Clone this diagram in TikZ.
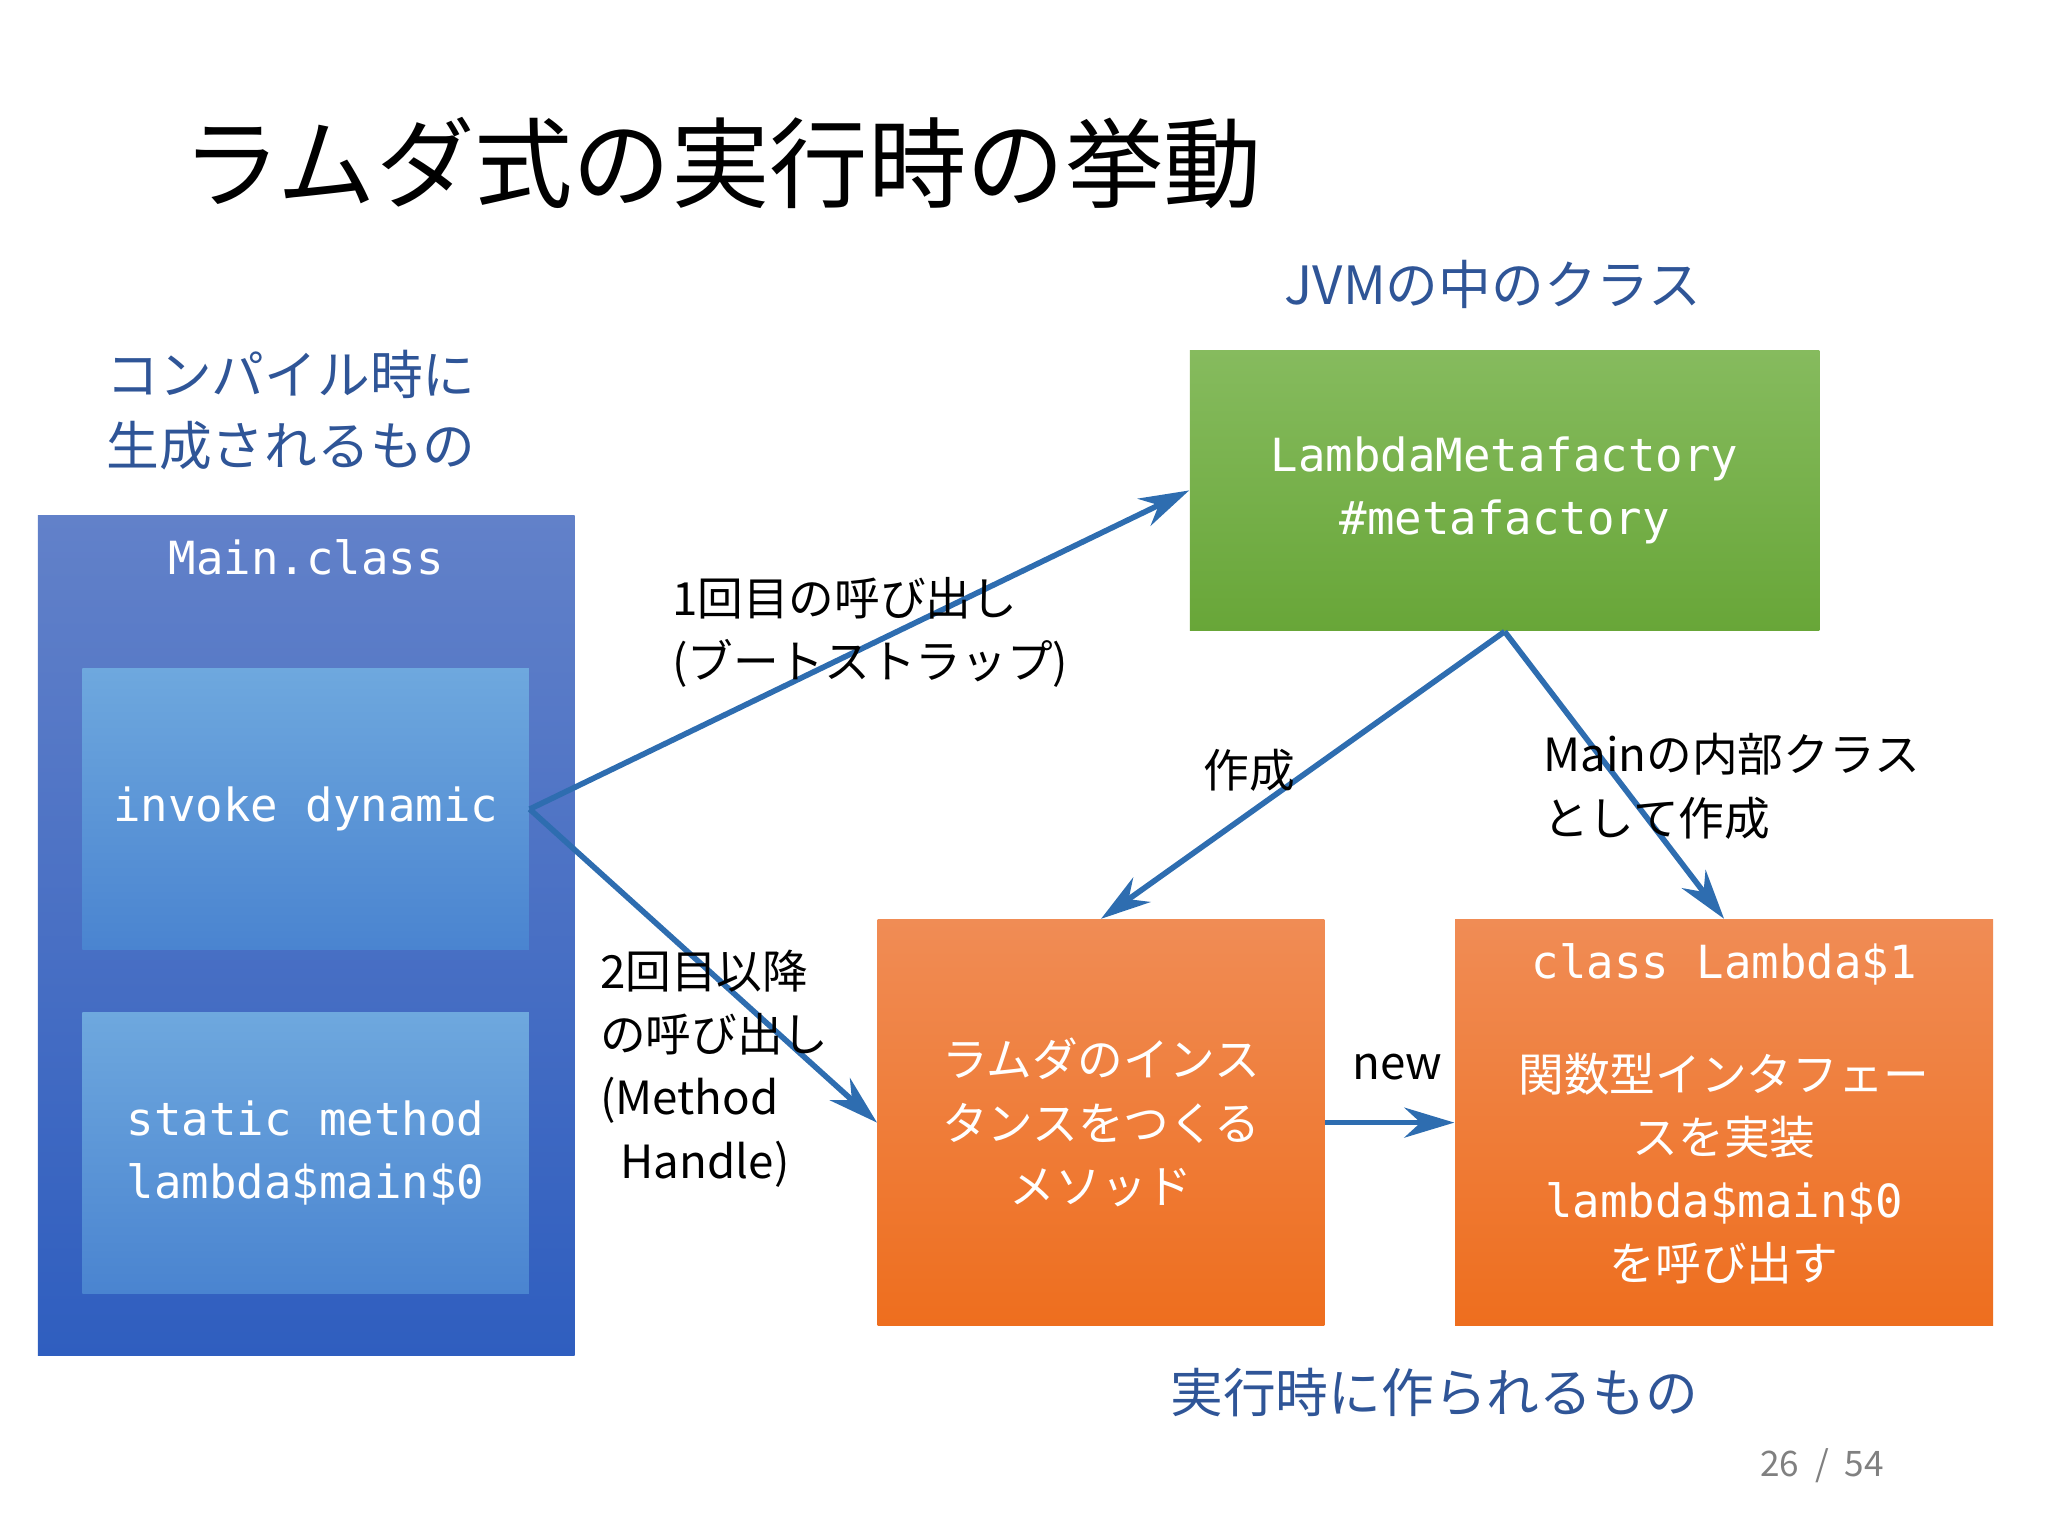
\documentclass[tikz,border=0pt]{standalone}
\usepackage{fontspec}
\setmainfont{Noto Sans CJK JP}
\newfontfamily\monofont{DejaVu Sans Mono}
\usetikzlibrary{arrows.meta}
\definecolor{jblue}{HTML}{2F5597}
\definecolor{arrowblue}{HTML}{2E6DB0}
\definecolor{outertop}{HTML}{6281C9}
\definecolor{outerbot}{HTML}{2F5EBF}
\definecolor{innertop}{HTML}{6EA8DE}
\definecolor{innerbot}{HTML}{4A84D0}
\definecolor{greentop}{HTML}{86BB5E}
\definecolor{greenbot}{HTML}{68A638}
\definecolor{orangetop}{HTML}{F08C55}
\definecolor{orangebot}{HTML}{EE6E1E}
\tikzset{
  box/.style={rectangle,inner sep=0pt,text centered,text=white,align=center,font=\monofont\fontsize{13}{18}\selectfont},
  outerbox/.style={box,top color=outertop,bottom color=outerbot},
  innerbox/.style={box,top color=innertop,bottom color=innerbot},
  greenbox/.style={box,top color=greentop,bottom color=greenbot},
  orangebox/.style={box,top color=orangetop,bottom color=orangebot},
  arrow/.style={line width=1.6pt,-{Stealth[length=5mm,width=3mm]},arrowblue},
  label/.style={align=left,anchor=west,font=\fontsize{13}{18}\selectfont},
  heading/.style={text=jblue,font=\fontsize{15}{20}\selectfont}
}
\begin{document}
\begin{tikzpicture}[x=0.013061cm,y=-0.013061cm]
\useasboundingbox (0,0) rectangle (1568,1176);
\node[anchor=west,font=\fontsize{28}{34}\selectfont](title) at (130,125){ラムダ式の実行時の挙動};
\node[heading](jvm) at (1143,218){JVMの中のクラス};
\node[heading,align=left,anchor=west](compile) at (72,314){コンパイル時に\\生成されるもの};
\node[heading](runtime) at (1098,1066){実行時に作られるもの};

\node[outerbox,minimum width=411*0.013061cm,minimum height=643*0.013061cm](main) at (234.5,716.5){};
\node[box](mainlabel) at (234.5,427){Main.class};
\node[innerbox,minimum width=342*0.013061cm,minimum height=215*0.013061cm](invoke) at (234,619.5){invoke dynamic};
\node[innerbox,minimum width=342*0.013061cm,minimum height=215*0.013061cm](static) at (234,882.5){static method\\lambda\$main\$0};
\node[greenbox,minimum width=482*0.013061cm,minimum height=215*0.013061cm](meta) at (1152,375.5){LambdaMetafactory\\\#metafactory};
\node[orangebox,minimum width=342*0.013061cm,minimum height=311*0.013061cm](factory) at (843,859.5){\rmfamily ラムダのインス\\\rmfamily タンスをつくる\\\rmfamily メソッド};
\node[orangebox,minimum width=412*0.013061cm,minimum height=311*0.013061cm](lambda) at (1320,859.5){};
\node[box,anchor=north](lambdatext) at (1320,722){class Lambda\$1\\[14pt]\rmfamily 関数型インタフェー\\\rmfamily スを実装\\lambda\$main\$0\\\rmfamily を呼び出す};

\draw[arrow](invoke.east)--(meta.west);
\draw[arrow](invoke.east)--(factory.west);
\draw[arrow](meta.south)--(factory.north);
\draw[arrow](meta.south)--(lambda.north);
\draw[arrow](factory.east)--(lambda.west);

\node[label](first) at (505,484){1回目の呼び出し\\(ブートストラップ)};
\node[label](second) at (450,818){2回目以降\\の呼び出し\\(Method\\\ \ Handle)};
\node[label](create) at (912,590){作成};
\node[label](inner) at (1172,602){Mainの内部クラス\\として作成};
\node[label](new) at (1026,817){new};
\node[text=gray,font=\fontsize{10}{12}\selectfont](page) at (1395,1122){26 \ / \ 54};
\end{tikzpicture}
\end{document}
